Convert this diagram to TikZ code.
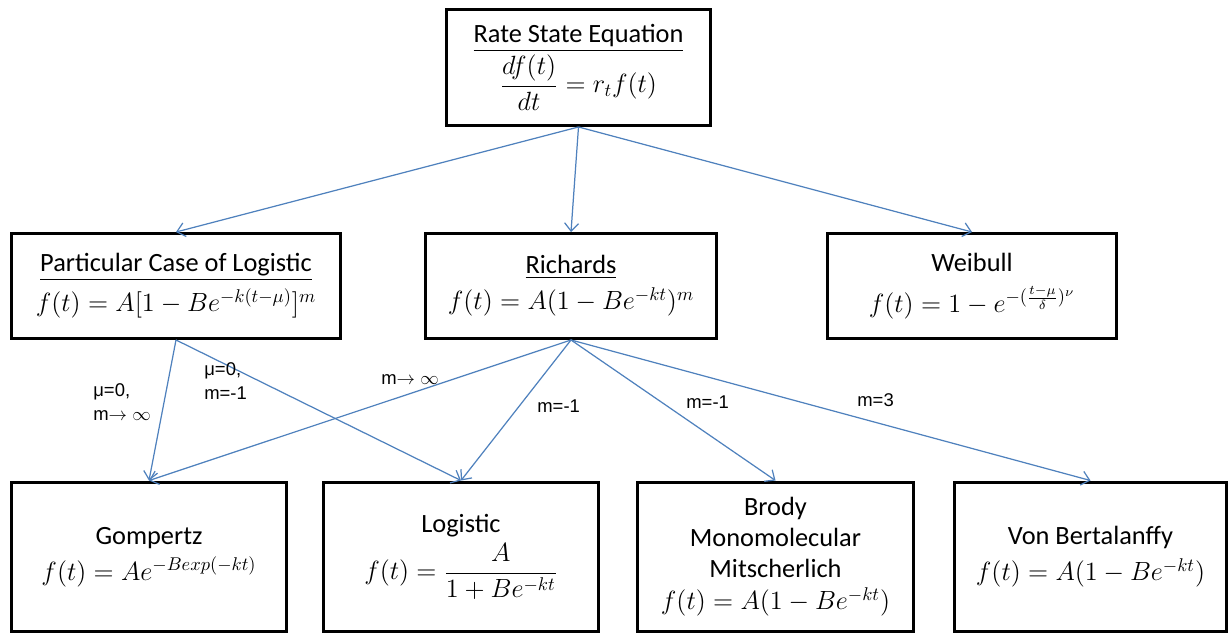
\documentclass[tikz,border=0pt]{standalone}
\usepackage{fix-cm}
\usepackage{amsmath}
\usepackage{fontspec}
\setmainfont{Carlito}
\newfontfamily\lblfont{Liberation Sans}
\usetikzlibrary{arrows.meta,positioning}
\definecolor{arrblue}{RGB}{79,129,189}
\newcommand{\eqn}[1]{{\fontsize{15}{18}\selectfont$#1$}}
\newcommand{\toinf}{m$\rightarrow$ $\infty$}
\tikzset{modl/.style={draw=black,line width=1.7pt,align=center,inner sep=0pt,font=\fontsize{15}{17.5}\selectfont}}
\tikzset{lnk/.style={draw=arrblue,line width=0.7pt,-{Straight Barb[length=4.5pt,width=8pt]}}}
\tikzset{cond/.style={font=\lblfont\fontsize{10.5}{13.5}\selectfont,align=left,inner sep=0pt,anchor=west}}

\begin{document}
\begin{tikzpicture}[x=0.02cm,y=-0.02cm]
\useasboundingbox (0,0) rectangle (1230,635);
% top level
\node [modl,minimum width=5.28cm,minimum height=2.32cm] at (578.5,67.5) (rate)
	{\underline{Rate State Equation}\\[1pt] \eqn{\dfrac{df(t)}{dt}=r_t f(t)}};
% second row
\node [modl,minimum width=6.58cm,minimum height=2.1cm] at (176,286) (part)
	{\underline{Particular Case of Logistic}\\[3pt] \eqn{f(t)=A[1-Be^{-k(t-\mu)}]^m}};
\node [modl,minimum width=5.82cm,minimum height=2.1cm] at (571,286) (rich)
	{\underline{Richards}\\[3pt] \eqn{f(t)=A(1-Be^{-kt})^m}};
\node [modl,minimum width=5.78cm,minimum height=2.1cm] at (972,286) (weib)
	{Weibull\\[6pt] \eqn{f(t)=1-e^{-(\frac{t-\mu}{\delta})^{\nu}}}};
% bottom row
\node [modl,minimum width=5.5cm,minimum height=3.0cm] at (149,557) (gomp)
	{Gompertz\\[3pt] \eqn{f(t)=Ae^{-Bexp(-kt)}}};
\node [modl,minimum width=5.5cm,minimum height=3.0cm] at (461,557) (logi)
	{Logistic\\[3pt] \eqn{f(t)=\dfrac{A}{1+Be^{-kt}}}};
\node [modl,minimum width=5.52cm,minimum height=3.0cm] at (775.5,557) (brod)
	{Brody\\ Monomolecular\\ Mitscherlich\\[1pt] \eqn{f(t)=A(1-Be^{-kt})}};
\node [modl,minimum width=5.44cm,minimum height=3.0cm] at (1090.5,557) (vonb)
	{Von Bertalanffy\\[3pt] \eqn{f(t)=A(1-Be^{-kt})}};

\draw [lnk] (rate.south) -- (part.north);
\draw [lnk] (rate.south) -- (rich.north);
\draw [lnk] (rate.south) -- (weib.north);

\draw [lnk] (part.south) -- (gomp.north);
\draw [lnk] (part.south) -- (logi.north);
\draw [lnk] (rich.south) -- (gomp.north);
\draw [lnk] (rich.south) -- (logi.north);
\draw [lnk] (rich.south) -- (brod.north);
\draw [lnk] (rich.south) -- (vonb.north);

% conditions
\node [cond] at (93,402) (c1) {μ=0,\\ \toinf};
\node [cond] at (204,381) (c2) {μ=0,\\ m=-1};
\node [cond] at (381,380) (c3) {\toinf};
\node [cond] at (537,406) (c4) {m=-1};
\node [cond] at (686,402) (c5) {m=-1};
\node [cond] at (857,400) (c6) {m=3};
\end{tikzpicture}
\end{document}
